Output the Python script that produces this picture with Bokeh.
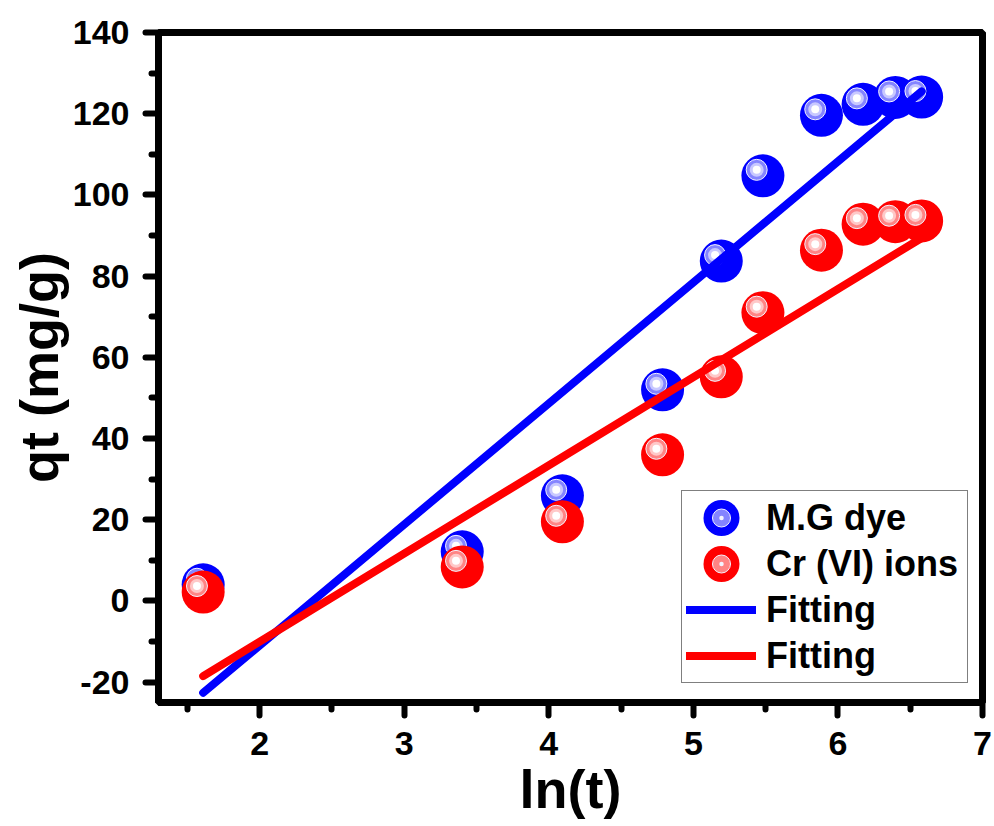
from bokeh.plotting import figure
from bokeh.models import (ColumnDataSource, FixedTicker, Range1d, Legend, LegendItem)
from bokeh.transform import dodge
from bokeh.embed import file_html
from bokeh.resources import INLINE

# ---- data ----
ln_t = [1.609, 3.401, 4.094, 4.787, 5.193, 5.481, 5.886, 6.174, 6.397, 6.579]
mg_qt = [4.0, 12.1, 25.9, 52.0, 83.7, 104.7, 119.6, 122.3, 124.0, 124.1]
cr_qt = [2.2, 8.4, 19.5, 36.0, 55.2, 71.0, 86.4, 92.8, 93.4, 93.6]
fit_x = [1.609, 6.579]
mg_fit = [-22.6, 125.5]
cr_fit = [-18.5, 89.4]
x_major = [2, 3, 4, 5, 6, 7]
x_minor = [1.5, 2.5, 3.5, 4.5, 5.5, 6.5]
y_major = [-20, 0, 20, 40, 60, 80, 100, 120, 140]
y_minor = [-10, 10, 30, 50, 70, 90, 110, 130]

FONT = "Liberation Sans"
BLUE = "#0000ff"
RED = "#ff0000"

p = figure(width=992, height=826, x_range=Range1d(1.3, 7.0), y_range=Range1d(-25, 140),
           output_backend="svg", toolbar_location=None,
           min_border_left=158, min_border_right=10, min_border_top=32, min_border_bottom=124,
           background_fill_color="white", border_fill_color="white")
p.grid.visible = False
p.outline_line_color = "black"
p.outline_line_width = 7

mg_src = ColumnDataSource(dict(x=ln_t, y=mg_qt))
cr_src = ColumnDataSource(dict(x=ln_t, y=cr_qt))

# highlight offset (sphere shine), in data units
HX, HY = -0.043, 1.48


def spheres(src, base, ring1, ring2):
    b = p.ellipse(x="x", y="y", width=43, height=43, width_units="screen",
                  height_units="screen", source=src, fill_color=base, line_color=None)
    r1 = p.scatter(x=dodge("x", HX), y=dodge("y", HY), source=src, marker="circle_dot",
                   size=21, fill_color=ring1, line_color="#f4f4ff", line_width=1)
    p.scatter(x=dodge("x", HX), y=dodge("y", HY), source=src, marker="circle",
              size=14, fill_color=ring2, line_color=None)
    p.scatter(x=dodge("x", HX), y=dodge("y", HY), source=src, marker="circle",
              size=8, fill_color="white", line_color=None)
    return b, r1


mg_b, mg_r1 = spheres(mg_src, BLUE, "#8484ff", "#c8c8ff")
cr_b, cr_r1 = spheres(cr_src, RED, "#ff8484", "#ffc8c8")

mg_line = p.line(fit_x, mg_fit, line_color=BLUE, line_width=8, line_cap="round")
cr_line = p.line(fit_x, cr_fit, line_color=RED, line_width=8, line_cap="round")

# ---- axes ----
p.xaxis.ticker = FixedTicker(ticks=x_major, minor_ticks=x_minor)
p.yaxis.ticker = FixedTicker(ticks=y_major, minor_ticks=y_minor)
p.yaxis.major_label_overrides = {-20: "-20"}
p.xaxis.axis_label = "ln(t)"
p.yaxis.axis_label = "qt (mg/g)"
for ax in (p.xaxis, p.yaxis):
    ax.axis_line_width = 7
    ax.axis_line_color = "black"
    ax.major_tick_line_width = 6
    ax.major_tick_line_cap = "round"
    ax.minor_tick_line_width = 6
    ax.minor_tick_line_cap = "round"
    ax.major_tick_in = 0
    ax.major_tick_out = 13
    ax.minor_tick_in = 0
    ax.minor_tick_out = 7
    ax.major_label_text_font = FONT
    ax.major_label_text_font_style = "bold"
    ax.major_label_text_font_size = "34px"
    ax.major_label_text_color = "black"
    ax.axis_label_text_font = FONT
    ax.axis_label_text_font_style = "bold"
    ax.axis_label_text_font_size = "54px"
    ax.axis_label_text_color = "black"
p.yaxis.major_label_standoff = 16
p.xaxis.major_label_standoff = 16
p.yaxis.axis_label_standoff = 1
p.xaxis.axis_label_standoff = 1

legend = Legend(items=[
    LegendItem(label="M.G dye", renderers=[mg_b, mg_r1]),
    LegendItem(label="Cr (VI) ions", renderers=[cr_b, cr_r1]),
    LegendItem(label="Fitting", renderers=[mg_line]),
    LegendItem(label="Fitting", renderers=[cr_line]),
], location=(523, 19))
legend.label_text_font = FONT
legend.label_text_font_style = "bold"
legend.label_text_font_size = "36px"
legend.label_text_color = "black"
legend.glyph_width = 70
legend.glyph_height = 45
legend.label_height = 45
legend.label_width = 197
legend.spacing = 1
legend.padding = 4
legend.margin = 0
legend.label_standoff = 10
legend.border_line_color = "black"
legend.border_line_width = 1
legend.background_fill_color = "white"
legend.background_fill_alpha = 1
p.add_layout(legend)

open("out.html", "w").write(file_html(p, INLINE))
